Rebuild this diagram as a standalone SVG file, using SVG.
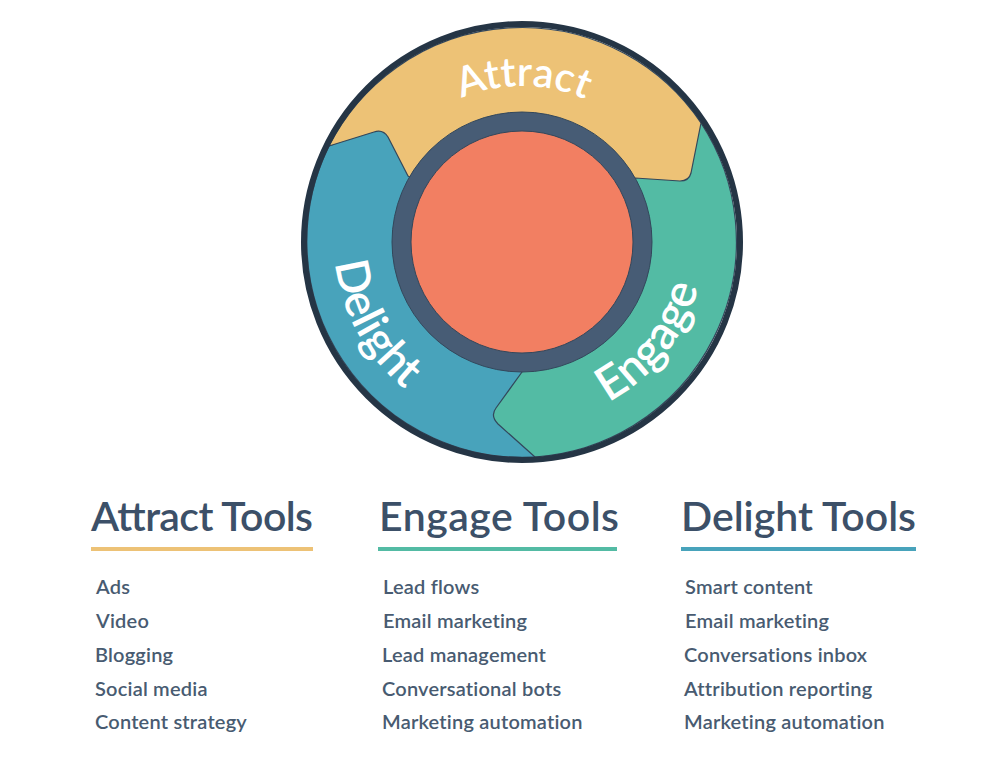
<svg xmlns="http://www.w3.org/2000/svg" width="1000" height="776" viewBox="0 0 1000 776">
<style>
.seg{stroke:#33475b;stroke-width:1.2;stroke-linejoin:round}
.lab{font-family:Lato,"Open Sans",sans-serif;font-weight:600;fill:#fff;text-anchor:middle;font-variant-ligatures:none}
.head{font-family:Lato,"Open Sans",sans-serif;font-size:41px;font-weight:600;fill:#3c5068}
.item{font-family:Lato,"Open Sans",sans-serif;font-size:20px;font-weight:600;fill:#485b71;font-variant-ligatures:none;letter-spacing:.2px}
.rule{stroke-width:4;fill:none}
</style>
<defs>
<path id="arcAttract" d="M405.2,138.6 A156,156 0 0 1 644.1,144.9"/>
<path id="arcEngage" d="M528.4,423.9 A182,182 0 0 0 700,204.2"/>
<path id="arcDelight" d="M346.5,174.6 A188,188 0 0 0 486.1,426.5"/>
</defs>
<rect width="1000" height="776" fill="#fff"/>
<g id="delight">
<path class="seg" fill="#48a3bb" d="M329,146 A216,216 0 0 0 535,457 L522,242 L420,110 Z"/>
<text class="lab" font-size="46"><textPath href="#arcDelight" startOffset="50%">Delight</textPath></text>
</g>
<g id="engage">
<path class="seg" fill="#53bba4" d="M701,123 A216,216 0 0 1 535,457 L498,424 Q490,416 496,408 L522,372 L522,242 Z"/>
<text class="lab" font-size="47"><textPath href="#arcEngage" startOffset="50%">Engage</textPath></text>
</g>
<g id="attract">
<path class="seg" fill="#edc276" d="M329,146 L374,132 Q383,129 388,137 L408,176 L522,242 L635,178 L680,181 Q689,181 691,173 L701,123 A216,216 0 0 0 329,146 Z"/>
<text class="lab" font-size="41"><textPath href="#arcAttract" startOffset="49%">Attract</textPath></text>
</g>
<g id="hub">
<circle cx="522" cy="242" r="120.500" fill="#f27f62" stroke="#475c75" stroke-width="19"/>
<circle cx="522" cy="242" r="130" fill="none" stroke="#33475b" stroke-width="1"/>
<circle cx="522" cy="242" r="111" fill="none" stroke="#33475b" stroke-width="1"/>
</g>
<g id="rim"><circle cx="522" cy="242" r="218" fill="none" stroke="#253545" stroke-width="6"/></g>
<g id="attract-tools">
<text class="head" x="91" y="531" textLength="222">Attract Tools</text>
<line class="rule" x1="91" y1="549" x2="313" y2="549" stroke="#edc276"/>
<text class="item" x="96" y="594">Ads</text>
<text class="item" x="96" y="628">Video</text>
<text class="item" x="95" y="662">Blogging</text>
<text class="item" x="95" y="696">Social media</text>
<text class="item" x="95" y="729">Content strategy</text>
</g>
<g id="engage-tools">
<text class="head" x="379" y="531" textLength="240">Engage Tools</text>
<line class="rule" x1="378" y1="549" x2="617" y2="549" stroke="#53bba4"/>
<text class="item" x="383" y="594">Lead flows</text>
<text class="item" x="383" y="628">Email marketing</text>
<text class="item" x="382" y="662">Lead management</text>
<text class="item" x="382" y="696">Conversational bots</text>
<text class="item" x="382" y="729">Marketing automation</text>
</g>
<g id="delight-tools">
<text class="head" x="681" y="531" textLength="235">Delight Tools</text>
<line class="rule" x1="681" y1="549" x2="916" y2="549" stroke="#48a3bb"/>
<text class="item" x="685" y="594">Smart content</text>
<text class="item" x="685" y="628">Email marketing</text>
<text class="item" x="684" y="662">Conversations inbox</text>
<text class="item" x="684" y="696">Attribution reporting</text>
<text class="item" x="684" y="729">Marketing automation</text>
</g>
</svg>
